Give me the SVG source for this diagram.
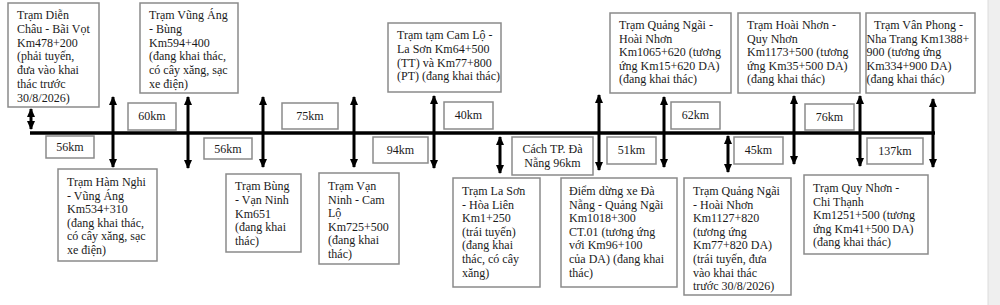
<svg xmlns="http://www.w3.org/2000/svg" width="1000" height="305" viewBox="0 0 1000 305">
<defs>
<marker id="ah" markerUnits="userSpaceOnUse" markerWidth="9" markerHeight="9" viewBox="0 0 9 9" refX="8" refY="4.5" orient="auto-start-reverse">
<path d="M0,0.5 L9,4.5 L0,8.5 z" fill="#000"/>
</marker>
</defs>
<style>
.box{fill:#fff;stroke:#8a8a8a;stroke-width:1.5}
.t{font-family:"Liberation Serif","Times New Roman",serif;font-size:12px;fill:#1a1a1a}
.c{text-anchor:middle}
.ar{stroke:#000;stroke-width:3;fill:none;marker-start:url(#ah);marker-end:url(#ah)}
.axis{stroke:#000;stroke-width:3.5;fill:none}
</style>
<rect x="0" y="0" width="1000" height="305" fill="#fff"/>
<rect x="988" y="0" width="12" height="305" fill="#efefef"/>
<line x1="988" y1="0" x2="988" y2="305" stroke="#dcdcdc" stroke-width="1"/>

<g id="connectors">
<line class="axis" x1="30" y1="133" x2="935" y2="133"/>
<line class="ar" x1="31" y1="109" x2="31" y2="129"/>
<line class="ar" x1="113" y1="97" x2="113" y2="167"/>
<line class="ar" x1="188" y1="97" x2="188" y2="168"/>
<line class="ar" x1="263" y1="97" x2="263" y2="167"/>
<line class="ar" x1="354" y1="97" x2="354" y2="167"/>
<line class="ar" x1="434" y1="96" x2="434" y2="168"/>
<line class="ar" x1="500" y1="137" x2="500" y2="173"/>
<line class="ar" x1="599" y1="95" x2="599" y2="170"/>
<line class="ar" x1="664" y1="97" x2="664" y2="167"/>
<line class="ar" x1="728" y1="136" x2="728" y2="172"/>
<line class="ar" x1="794" y1="96" x2="794" y2="164"/>
<line class="ar" x1="860" y1="96" x2="860" y2="166"/>
<line class="ar" x1="933" y1="99" x2="933" y2="167"/>
</g>

<g id="d60"><rect class="box" x="128" y="103" width="48" height="27"/><text class="t c" x="152" y="120">60km</text></g>
<g id="d75"><rect class="box" x="282" y="103" width="56" height="26"/><text class="t c" x="310" y="120">75km</text></g>
<g id="d40"><rect class="box" x="444" y="102" width="49" height="27"/><text class="t c" x="468.500" y="119">40km</text></g>
<g id="d62"><rect class="box" x="671" y="102" width="49" height="27"/><text class="t c" x="695.500" y="119">62km</text></g>
<g id="d76"><rect class="box" x="805" y="104" width="49" height="26"/><text class="t c" x="829.500" y="121">76km</text></g>
<g id="d56a"><rect class="box" x="46" y="136" width="48" height="22"/><text class="t c" x="70" y="151">56km</text></g>
<g id="d56b"><rect class="box" x="204" y="138" width="48" height="21"/><text class="t c" x="228" y="153">56km</text></g>
<g id="d94"><rect class="box" x="373" y="137" width="55" height="26"/><text class="t c" x="400.500" y="154">94km</text></g>
<g id="d96"><rect class="box" x="512" y="137" width="81" height="38"/><text class="t c" x="552.500" y="153">Cách TP. Đà<tspan x="552.500" dy="14">Nẵng 96km</tspan></text></g>
<g id="d51"><rect class="box" x="607" y="137" width="49" height="27"/><text class="t c" x="631.500" y="154">51km</text></g>
<g id="d45"><rect class="box" x="734" y="137" width="49" height="27"/><text class="t c" x="758.500" y="154">45km</text></g>
<g id="d137"><rect class="box" x="867" y="138" width="56" height="26"/><text class="t c" x="895" y="155">137km</text></g>

<g id="n1"><rect class="box" x="8" y="3" width="91" height="104"/>
<text class="t" x="17" y="19">Trạm Diễn<tspan x="17" dy="13.8">Châu - Bãi Vọt</tspan><tspan x="17" dy="13.8">Km478+200</tspan><tspan x="17" dy="13.8">(phải tuyến,</tspan><tspan x="17" dy="13.8">đưa vào khai</tspan><tspan x="17" dy="13.8">thác trước</tspan><tspan x="17" dy="13.8">30/8/2026)</tspan></text></g>

<g id="n2"><rect class="box" x="140" y="3" width="98" height="90"/>
<text class="t" x="149" y="19">Trạm Vũng Áng<tspan x="149" dy="13.8">- Bùng</tspan><tspan x="149" dy="13.8">Km594+400</tspan><tspan x="149" dy="13.8">(đang khai thác,</tspan><tspan x="149" dy="13.8">có cây xăng, sạc</tspan><tspan x="149" dy="13.8">xe điện)</tspan></text></g>

<g id="n3"><rect class="box" x="388" y="23" width="113" height="69"/>
<text class="t" x="397" y="39">Trạm tạm Cam Lộ -<tspan x="397" dy="13.8">La Sơn Km64+500</tspan><tspan x="397" dy="13.8">(TT) và Km77+800</tspan><tspan x="397" dy="13.8">(PT) (đang khai thác)</tspan></text></g>

<g id="n4"><rect class="box" x="610" y="13" width="121" height="80"/>
<text class="t" x="619" y="29">Trạm Quảng Ngãi -<tspan x="619" dy="13.6">Hoài Nhơn</tspan><tspan x="619" dy="13.6">Km1065+620 (tương</tspan><tspan x="619" dy="13.6">ứng Km15+620 DA)</tspan><tspan x="619" dy="13.6">(đang khai thác)</tspan></text></g>

<g id="n5"><rect class="box" x="738" y="13" width="122" height="80"/>
<text class="t" x="747" y="29">Trạm Hoài Nhơn -<tspan x="747" dy="13.6">Quy Nhơn</tspan><tspan x="747" dy="13.6">Km1173+500 (tương</tspan><tspan x="747" dy="13.6">ứng Km35+500 DA)</tspan><tspan x="747" dy="13.6">(đang khai thác)</tspan></text></g>

<g id="n6"><rect class="box" x="866" y="13" width="109" height="80"/>
<text class="t" x="874" y="29">Trạm Vân Phong -<tspan x="866.500" dy="13.6">Nha Trang Km1388+</tspan><tspan x="866.500" dy="13.6">900 (tương ứng</tspan><tspan x="866.500" dy="13.6">Km334+900 DA)</tspan><tspan x="866.500" dy="13.6">(đang khai thác)</tspan></text></g>

<g id="n7"><rect class="box" x="58" y="169" width="99" height="92"/>
<text class="t" x="67" y="186">Trạm Hàm Nghi<tspan x="67" dy="13.6">- Vũng Áng</tspan><tspan x="67" dy="13.6">Km534+310</tspan><tspan x="67" dy="13.6">(đang khai thác,</tspan><tspan x="67" dy="13.6">có cây xăng, sạc</tspan><tspan x="67" dy="13.6">xe điện)</tspan></text></g>

<g id="n8"><rect class="box" x="226" y="174" width="75" height="78"/>
<text class="t" x="235" y="190">Trạm Bùng<tspan x="235" dy="13.8">- Vạn Ninh</tspan><tspan x="235" dy="13.8">Km651</tspan><tspan x="235" dy="13.8">(đang khai</tspan><tspan x="235" dy="13.8">thác)</tspan></text></g>

<g id="n9"><rect class="box" x="319" y="173" width="80" height="91"/>
<text class="t" x="328" y="190">Trạm Vạn<tspan x="328" dy="13.6">Ninh - Cam</tspan><tspan x="328" dy="13.6">Lộ</tspan><tspan x="328" dy="13.6">Km725+500</tspan><tspan x="328" dy="13.6">(đang khai</tspan><tspan x="328" dy="13.6">thác)</tspan></text></g>

<g id="n10"><rect class="box" x="453" y="178" width="87" height="109"/>
<text class="t" x="462" y="195">Trạm La Sơn<tspan x="462" dy="13.6">- Hòa Liên</tspan><tspan x="462" dy="13.6">Km1+250</tspan><tspan x="462" dy="13.6">(trái tuyến)</tspan><tspan x="462" dy="13.6">(đang khai</tspan><tspan x="462" dy="13.6">thác, có cây</tspan><tspan x="462" dy="13.6">xăng)</tspan></text></g>

<g id="n11"><rect class="box" x="561" y="178" width="116" height="109"/>
<text class="t" x="569" y="195">Điểm dừng xe Đà<tspan x="569" dy="13.6">Nẵng - Quảng Ngãi</tspan><tspan x="569" dy="13.6">Km1018+300</tspan><tspan x="569" dy="13.6">CT.01 (tương ứng</tspan><tspan x="569" dy="13.6">với Km96+100</tspan><tspan x="569" dy="13.6">của DA) (đang khai</tspan><tspan x="569" dy="13.6">thác)</tspan></text></g>

<g id="n12"><rect class="box" x="684" y="178" width="107" height="117"/>
<text class="t" x="693" y="195">Trạm Quảng Ngãi<tspan x="693" dy="13.6">- Hoài Nhơn</tspan><tspan x="693" dy="13.6">Km1127+820</tspan><tspan x="693" dy="13.6">(tương ứng</tspan><tspan x="693" dy="13.6">Km77+820 DA)</tspan><tspan x="693" dy="13.6">(trái tuyến, đưa</tspan><tspan x="693" dy="13.6">vào khai thác</tspan><tspan x="693" dy="13.6">trước 30/8/2026)</tspan></text></g>

<g id="n13"><rect class="box" x="804" y="175" width="124" height="79"/>
<text class="t" x="813" y="192">Trạm Quy Nhơn -<tspan x="813" dy="13.6">Chi Thạnh</tspan><tspan x="813" dy="13.6">Km1251+500 (tương</tspan><tspan x="813" dy="13.6">ứng Km41+500 DA)</tspan><tspan x="813" dy="13.6">(đang khai thác)</tspan></text></g>
</svg>
